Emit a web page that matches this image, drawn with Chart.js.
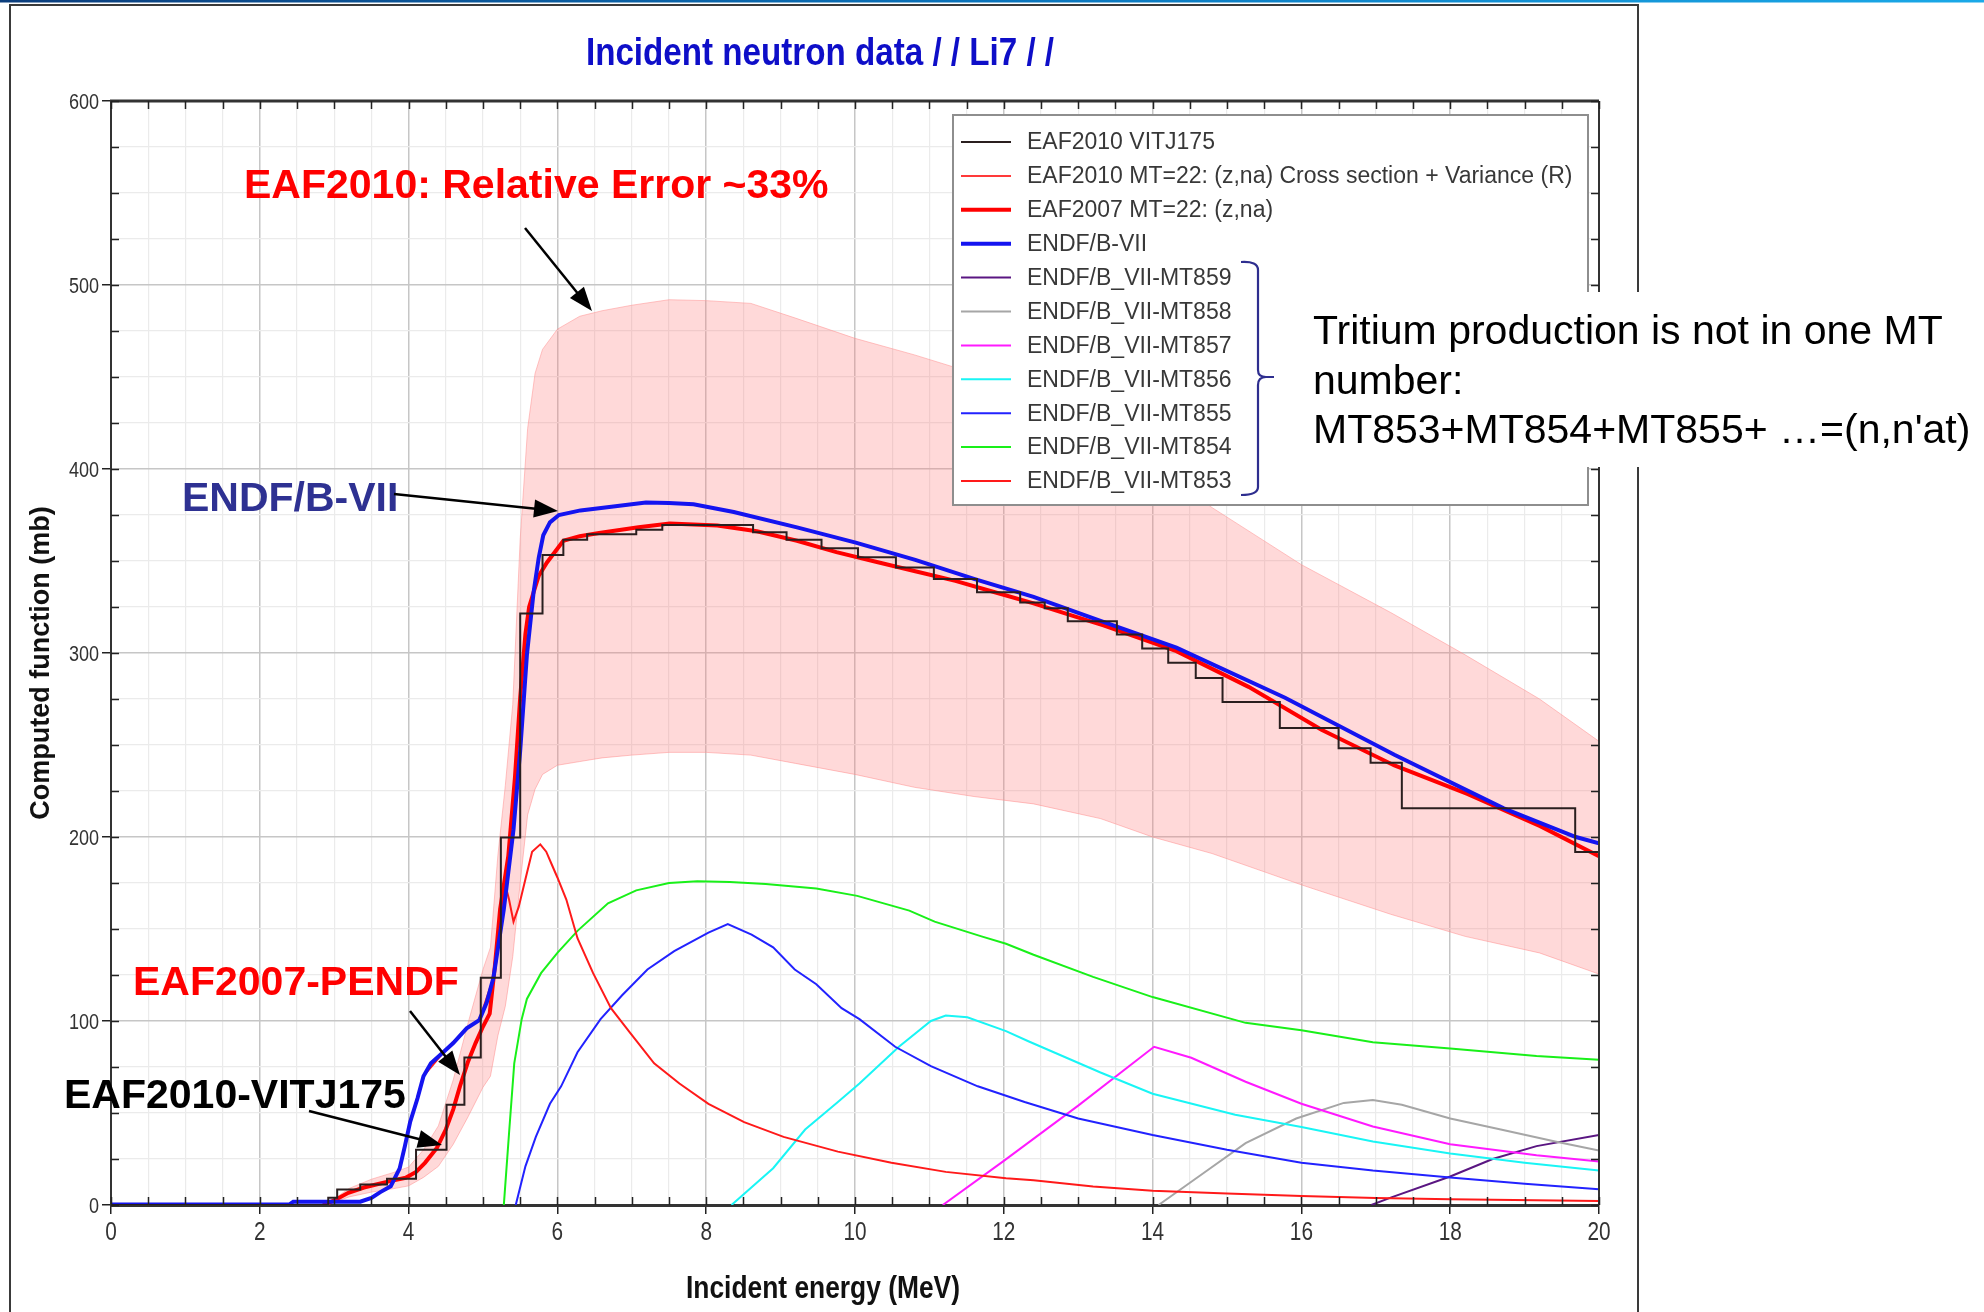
<!DOCTYPE html>
<html><head><meta charset="utf-8">
<script src="https://cdn.jsdelivr.net/npm/chart.js@4.4.1/dist/chart.umd.min.js"></script>
<style>html,body{margin:0;padding:0;background:#fff;}canvas{display:block;}</style>
</head><body>
<canvas id="c" width="1984" height="1312"></canvas>
<script>
// ---------------- DATA (energy MeV, cross section mb) ----------------
const chartTitle = 'Incident neutron data / / Li7 / /';
const xAxisTitle = 'Incident energy (MeV)';
const yAxisTitle = 'Computed function (mb)';
const xRange = [0, 20];
const yRange = [0, 600];

// EAF2010 VITJ175 group values (group left edge, value)
const vitj175 = [[0,0],[2.92,3.9],[3.04,8.4],[3.35,11.1],[3.71,14.2],[4.10,30],[4.51,54.5],[4.75,80.2],[4.97,123.5],[5.24,199.7],[5.50,321.5],[5.80,353.3],[6.08,361.6],[6.40,364.5],[7.06,367],[7.41,369.5],[8.63,365.6],[9.08,361.6],[9.55,356.9],[10.04,352.1],[10.55,346.5],[11.06,340.2],[11.64,333],[12.22,327.5],[12.55,324.3],[12.86,317.2],[13.52,310.1],[13.86,302.5],[14.21,294.7],[14.58,286.4],[14.94,273.4],[15.71,259.3],[16.50,248.2],[16.93,240.4],[17.35,215.6],[19.68,191.8],[20,191.8]];

// EAF2010 MT=22 variance band (upper / lower edges)
const eaf2010Upper = [[2.9,0.5],[3.2,9],[3.5,14],[3.8,17.7],[4.0,20.6],[4.2,30],[4.4,43],[4.6,68],[4.8,99],[5.0,128],[5.1,140],[5.2,190],[5.3,228],[5.4,272],[5.5,362],[5.6,422],[5.7,452],[5.8,465],[6.0,476],[6.3,483],[6.6,486],[7.0,489],[7.5,492],[8.0,491.5],[8.6,490],[9.2,482],[10.0,471],[10.8,462],[11.6,452],[12.4,435],[13.3,418],[14.0,402],[14.8,379],[16.0,348],[17.2,322],[18.2,299],[19.2,275],[20,252]];
const eaf2010Lower = [[2.9,0],[3.2,4.4],[3.5,7],[3.8,8.9],[4.0,10.4],[4.2,15],[4.4,21],[4.6,33],[4.8,48],[5.0,64],[5.1,70],[5.2,92],[5.3,108],[5.4,135],[5.5,175],[5.6,212],[5.7,226],[5.8,234],[6.0,239],[6.3,241],[6.6,243],[7.0,244.5],[7.5,246],[8.0,246],[8.6,244.5],[9.2,240],[10.0,234],[10.8,227],[11.6,222],[12.4,218],[13.3,210],[14.0,200],[14.8,191],[16.0,174],[17.2,158],[18.2,146],[19.2,137],[20,125.5]];

// EAF2007 MT=22 (z,na)
const eaf2007 = [[2.85,0],[3.0,2.5],[3.19,6.6],[3.4,9.5],[3.55,11],[3.75,13],[3.96,14.8],[4.1,18],[4.22,22.9],[4.38,31],[4.5,41],[4.6,52],[4.69,64.5],[4.8,78],[4.9,88],[5.0,97],[5.09,104],[5.16,130],[5.23,160.8],[5.34,189.6],[5.43,232.7],[5.50,275.9],[5.57,310.4],[5.62,325],[5.68,333],[5.75,342],[5.86,349.2],[6.08,361],[6.3,363.5],[6.56,365.2],[7.09,368.3],[7.51,370.4],[8.15,369.3],[8.68,366.2],[9.22,361],[9.75,354.8],[10.28,349.6],[10.81,344.4],[11.35,339.2],[11.88,333],[12.4,327],[12.94,320],[13.34,315],[14.32,301],[15.29,281.6],[16.27,258.3],[17.25,238.9],[18.23,223.4],[19.21,205.9],[20,189.5]];

// ENDF/B-VII total
const endfb7 = [[0,0.3],[2.4,0.3],[2.45,1.8],[3.35,1.8],[3.5,3.9],[3.62,7],[3.76,10.2],[3.88,19.9],[3.95,32],[4.02,45],[4.12,58],[4.20,70],[4.3,77],[4.48,83.5],[4.6,88],[4.78,96],[4.95,100.5],[5.05,110],[5.14,123.5],[5.28,160.8],[5.41,204],[5.50,247],[5.59,298.9],[5.68,333],[5.75,352],[5.81,364],[5.9,371],[6.02,375],[6.31,377.5],[6.56,378.7],[7.19,381.8],[7.5,381.5],[7.83,380.8],[8.37,376.6],[9.22,368.3],[10.01,360],[10.81,350.6],[11.61,340.2],[12.4,330.5],[13.3,317.5],[14.32,302.9],[15.78,275.7],[17.25,244.7],[18.72,215.6],[19.69,200],[20,196.5]];

// ENDF/B-VII partial MT numbers
const mt859 = [[16.94,0],[17.2,4],[18,15.5],[18.57,25],[19.16,32],[20,38]];
const mt858 = [[14.08,0],[14.62,15.5],[15.25,33.6],[15.93,47],[16.57,55.5],[16.96,57],[17.35,54.5],[18,47],[18.68,41],[19.41,34.5],[20,29.6]];
const mt857 = [[11.18,0],[12,24],[13,54],[14.02,86],[14.52,80],[15.25,67],[16,55],[16.96,42.7],[18,33],[19.16,27],[20,23.6]];
const mt856 = [[8.34,0],[8.9,20],[9.33,41],[9.77,56],[10.06,66],[10.59,86],[11.02,100],[11.22,103],[11.51,102],[12.03,94.5],[12.33,89],[13.3,72],[14,60.5],[15.11,49],[16,42.4],[16.96,34.5],[18,28],[19,23],[20,18.7]];
const mt855 = [[5.44,0],[5.57,21],[5.71,37],[5.9,55],[6.05,64.5],[6.27,83],[6.58,101],[6.87,114],[7.21,128],[7.57,138],[8.03,148],[8.29,152.7],[8.61,147],[8.9,140],[9.19,128],[9.48,120],[9.82,107],[10.06,101],[10.54,86],[11.02,75.5],[11.65,64.5],[12.28,56],[13,47],[14,38],[15,30],[16,23],[16.96,18.7],[18,15],[19,11.5],[20,8.5]];
const mt854 = [[5.28,0],[5.35,39],[5.42,77],[5.52,101],[5.59,112],[5.78,126],[6.0,137],[6.27,149],[6.68,164],[7.06,171],[7.5,175],[7.88,176],[8.32,175.5],[8.8,174.5],[9.48,172],[10.03,168],[10.73,160],[11.07,154],[11.7,146],[12.03,142],[12.4,136],[13.2,124],[14,113],[15.25,99],[16,95],[16.96,88.5],[18,85],[19.16,81],[20,79]];
const mt853 = [[2.45,1.8],[3.35,1.8],[3.5,3.9],[3.76,10.2],[3.88,19.9],[4.02,45],[4.20,70],[4.48,83.5],[4.78,96],[4.95,100.5],[5.14,123.5],[5.24,158],[5.30,174],[5.35,166],[5.41,154],[5.48,162],[5.57,177],[5.66,192],[5.77,196],[5.85,192],[5.93,184.5],[6.0,178],[6.12,166],[6.27,145],[6.48,126],[6.72,107],[6.97,94],[7.30,77],[7.64,66],[8.03,55],[8.51,45],[9.04,37],[9.77,29],[10.49,23],[11.22,18],[12.03,14.5],[12.4,13.5],[13.2,10],[14,7.8],[15,6.2],[16,4.9],[17,3.8],[18,3.1],[20,2.2]];

const legendLabels = ['EAF2010 VITJ175','EAF2010 MT=22: (z,na) Cross section + Variance (R)','EAF2007 MT=22: (z,na)','ENDF/B-VII','ENDF/B_VII-MT859','ENDF/B_VII-MT858','ENDF/B_VII-MT857','ENDF/B_VII-MT856','ENDF/B_VII-MT855','ENDF/B_VII-MT854','ENDF/B_VII-MT853'];
const noteLines = ['Tritium production is not in one MT','number:','MT853+MT854+MT855+ \u2026=(n,n\'at)'];

// ---------------- STYLE ----------------
const SANS = '"Liberation Sans",Arial,Helvetica,sans-serif';
const styles = {
  'EAF2010 VITJ175': {color:'#2a1f1f', width:2},
  'EAF2010 MT=22: (z,na) Cross section + Variance (R)': {color:'#ff3a3a', width:2},
  'EAF2007 MT=22: (z,na)': {color:'#ff0000', width:4},
  'ENDF/B-VII': {color:'#1414f0', width:4},
  'ENDF/B_VII-MT859': {color:'#5a1682', width:2},
  'ENDF/B_VII-MT858': {color:'#a6a6a6', width:2},
  'ENDF/B_VII-MT857': {color:'#ff1aff', width:2},
  'ENDF/B_VII-MT856': {color:'#19f5f5', width:2},
  'ENDF/B_VII-MT855': {color:'#2222ff', width:2},
  'ENDF/B_VII-MT854': {color:'#19f019', width:2},
  'ENDF/B_VII-MT853': {color:'#ff1a1a', width:2}
};
const toXY = a => a.map(p => ({x:p[0], y:p[1]}));
function line(label, data, extra) {
  const s = styles[label];
  return Object.assign({label, data: toXY(data), borderColor: s.color, backgroundColor: s.color,
    borderWidth: s.width, pointRadius: 0, tension: 0, fill: false}, extra || {});
}

// first dataset is drawn on top
const datasets = [
  line('EAF2010 VITJ175', vitj175, {stepped: 'before'}),
  line('ENDF/B-VII', endfb7),
  line('EAF2007 MT=22: (z,na)', eaf2007),
  line('ENDF/B_VII-MT853', mt853),
  line('ENDF/B_VII-MT854', mt854),
  line('ENDF/B_VII-MT855', mt855),
  line('ENDF/B_VII-MT856', mt856),
  line('ENDF/B_VII-MT857', mt857),
  line('ENDF/B_VII-MT858', mt858),
  line('ENDF/B_VII-MT859', mt859),
  {label:'EAF2010 upper', data: toXY(eaf2010Upper), borderColor:'rgba(255,150,150,0.55)', borderWidth:1,
   backgroundColor:'rgba(255,120,120,0.28)', pointRadius:0, tension:0, fill:'+1'},
  {label:'EAF2010 lower', data: toXY(eaf2010Lower), borderColor:'rgba(255,150,150,0.55)', borderWidth:1,
   pointRadius:0, tension:0, fill:false}
];

function arrow(ctx, x1, y1, x2, y2) {
  const a = Math.atan2(y2 - y1, x2 - x1), L = 24, W = 9;
  ctx.beginPath(); ctx.moveTo(x1, y1);
  ctx.lineTo(x2 - (L - 4) * Math.cos(a), y2 - (L - 4) * Math.sin(a)); ctx.stroke();
  ctx.beginPath(); ctx.moveTo(x2, y2);
  ctx.lineTo(x2 - L * Math.cos(a) + W * Math.sin(a), y2 - L * Math.sin(a) - W * Math.cos(a));
  ctx.lineTo(x2 - L * Math.cos(a) - W * Math.sin(a), y2 - L * Math.sin(a) + W * Math.cos(a));
  ctx.closePath(); ctx.fill();
}
// horizontally condensed text
function sText(ctx, text, x, y, font, sx, align) {
  ctx.save();
  ctx.font = font; ctx.textAlign = align; ctx.textBaseline = 'alphabetic';
  ctx.translate(x, y); ctx.scale(sx, 1);
  ctx.fillText(text, 0, 0);
  ctx.restore();
}

const majorX = v => Math.abs(v % 2) < 1e-9;
const majorY = v => Math.abs(v % 100) < 1e-9;

const decor = {
  id: 'decor',
  beforeDraw(chart) {
    const ctx = chart.ctx, W = chart.width, H = chart.height;
    ctx.save();
    ctx.fillStyle = '#fff'; ctx.fillRect(0, 0, W, H);
    const g = ctx.createLinearGradient(0, 0, W, 0);
    g.addColorStop(0, '#0b3d7c'); g.addColorStop(0.5, '#0a74bb'); g.addColorStop(1, '#1aa9e8');
    ctx.fillStyle = g; ctx.fillRect(0, 0, W, 2.5);
    ctx.strokeStyle = '#3a3a3a'; ctx.lineWidth = 2;
    ctx.beginPath(); ctx.moveTo(10, H); ctx.lineTo(10, 5); ctx.lineTo(1638, 5); ctx.lineTo(1638, H); ctx.stroke();
    ctx.restore();
  },
  afterDraw(chart) {
    const ctx = chart.ctx, xs = chart.scales.x, ys = chart.scales.y, ca = chart.chartArea;
    ctx.save();
    // frame of plot: top and right
    ctx.strokeStyle = '#333'; ctx.lineWidth = 3;
    ctx.beginPath(); ctx.moveTo(ca.left - 1, ca.top); ctx.lineTo(ca.right, ca.top); ctx.stroke();
    ctx.lineWidth = 2;
    ctx.beginPath(); ctx.moveTo(ca.right, ca.top); ctx.lineTo(ca.right, ca.bottom); ctx.stroke();
    // inner minor ticks
    ctx.lineWidth = 1.5; ctx.strokeStyle = '#222';
    ctx.beginPath();
    xs.ticks.forEach(t => {
      const px = Math.round(xs.getPixelForValue(t.value)) + 0.5;
      ctx.moveTo(px, ca.bottom); ctx.lineTo(px, ca.bottom - 8);
      ctx.moveTo(px, ca.top); ctx.lineTo(px, ca.top + 8);
    });
    ys.ticks.forEach(t => {
      const py = Math.round(ys.getPixelForValue(t.value)) + 0.5;
      ctx.moveTo(ca.left, py); ctx.lineTo(ca.left + 8, py);
      ctx.moveTo(ca.right, py); ctx.lineTo(ca.right - 8, py);
    });
    ctx.stroke();
    // tick labels (condensed)
    ctx.fillStyle = '#333';
    xs.ticks.forEach(t => {
      if (majorX(t.value)) sText(ctx, String(t.value), xs.getPixelForValue(t.value), ca.bottom + 35, '26px ' + SANS, 0.8, 'center');
    });
    ys.ticks.forEach(t => {
      if (majorY(t.value)) sText(ctx, String(t.value), ca.left - 12, ys.getPixelForValue(t.value) + 8, '22px ' + SANS, 0.82, 'right');
    });

    // legend box
    const lx = 953, ly = 115, lw = 635, lh = 390;
    ctx.fillStyle = '#fff'; ctx.fillRect(lx, ly, lw, lh);
    ctx.strokeStyle = '#8e8e8e'; ctx.lineWidth = 2; ctx.strokeRect(lx, ly, lw, lh);
    ctx.font = '23px ' + SANS; ctx.textBaseline = 'middle'; ctx.textAlign = 'left';
    legendLabels.forEach((lab, i) => {
      const y = 142 + i * 33.9, s = styles[lab];
      ctx.strokeStyle = s.color; ctx.lineWidth = s.width;
      ctx.beginPath(); ctx.moveTo(961, y); ctx.lineTo(1011, y); ctx.stroke();
      ctx.fillStyle = '#383838'; ctx.fillText(lab, 1027, y + 1);
    });

    // white box behind note
    ctx.fillStyle = '#fff'; ctx.fillRect(1300, 292, 684, 175);
    // brace
    ctx.strokeStyle = '#2e2e8f'; ctx.lineWidth = 2.2;
    ctx.beginPath();
    ctx.moveTo(1241, 262); ctx.quadraticCurveTo(1258, 261, 1258, 270);
    ctx.lineTo(1258, 370); ctx.quadraticCurveTo(1258, 377, 1266, 377); ctx.lineTo(1274, 377);
    ctx.moveTo(1266, 377); ctx.quadraticCurveTo(1258, 377, 1258, 385);
    ctx.lineTo(1258, 487); ctx.quadraticCurveTo(1258, 495, 1241, 495);
    ctx.stroke();
    // note text
    ctx.fillStyle = '#000'; ctx.font = '41px ' + SANS; ctx.textBaseline = 'alphabetic';
    noteLines.forEach((t, i) => ctx.fillText(t, 1313, 344 + i * 49.5));

    // annotations
    ctx.font = 'bold 41px ' + SANS;
    ctx.fillStyle = '#ff0000'; ctx.fillText('EAF2010: Relative Error ~33%', 244, 198);
    ctx.fillStyle = '#2e3192'; ctx.fillText('ENDF/B-VII', 182, 511);
    ctx.fillStyle = '#ff0000'; ctx.fillText('EAF2007-PENDF', 133, 995);
    ctx.fillStyle = '#000'; ctx.fillText('EAF2010-VITJ175', 64, 1108);
    ctx.strokeStyle = '#000'; ctx.fillStyle = '#000'; ctx.lineWidth = 2.5;
    arrow(ctx, 525, 228, 592, 311);
    arrow(ctx, 394, 494, 558, 511);
    arrow(ctx, 410, 1011, 460, 1075);
    arrow(ctx, 309, 1111, 442, 1145);

    // titles
    ctx.fillStyle = '#0e0ec8';
    sText(ctx, chartTitle, 820, 65, 'bold 38px ' + SANS, 0.873, 'center');
    ctx.fillStyle = '#111';
    sText(ctx, xAxisTitle, 823, 1298, 'bold 32px ' + SANS, 0.824, 'center');
    ctx.save(); ctx.translate(49, 663); ctx.rotate(-Math.PI / 2);
    ctx.font = 'bold 27px ' + SANS; ctx.textAlign = 'center'; ctx.fillText(yAxisTitle, 0, 0);
    ctx.restore();
    ctx.restore();
  }
};

new Chart(document.getElementById('c'), {
  type: 'line',
  data: { datasets },
  options: {
    responsive: false, animation: false, devicePixelRatio: 1, events: [],
    layout: { padding: { left: 0, top: 101, right: 385, bottom: 0 } },
    plugins: { legend: { display: false }, tooltip: { enabled: false }, title: { display: false } },
    scales: {
      x: {
        type: 'linear', min: xRange[0], max: xRange[1],
        afterFit: s => { s.height = 107; },
        border: { display: true, color: '#333', width: 3 },
        grid: {
          color: c => majorX(c.tick.value) ? '#c6c6c6' : '#ebebeb',
          lineWidth: c => majorX(c.tick.value) ? 1.5 : 1.2,
          tickColor: c => majorX(c.tick.value) ? '#222' : 'rgba(0,0,0,0)',
          tickLength: 9, tickWidth: 1.5
        },
        ticks: { stepSize: 0.5, autoSkip: false, maxRotation: 0, padding: 3,
          color: 'rgba(0,0,0,0)', font: { size: 20 }, callback: v => '' }
      },
      y: {
        type: 'linear', min: yRange[0], max: yRange[1],
        afterFit: s => { s.width = 111; },
        border: { display: true, color: '#333', width: 2 },
        grid: {
          color: c => majorY(c.tick.value) ? '#c6c6c6' : '#ebebeb',
          lineWidth: c => majorY(c.tick.value) ? 1.5 : 1.2,
          tickColor: c => majorY(c.tick.value) ? '#222' : 'rgba(0,0,0,0)',
          tickLength: 9, tickWidth: 1.5
        },
        ticks: { stepSize: 25, autoSkip: false, padding: 3,
          color: 'rgba(0,0,0,0)', font: { size: 20 }, callback: v => '' }
      }
    }
  },
  plugins: [decor]
});
</script>
</body></html>
